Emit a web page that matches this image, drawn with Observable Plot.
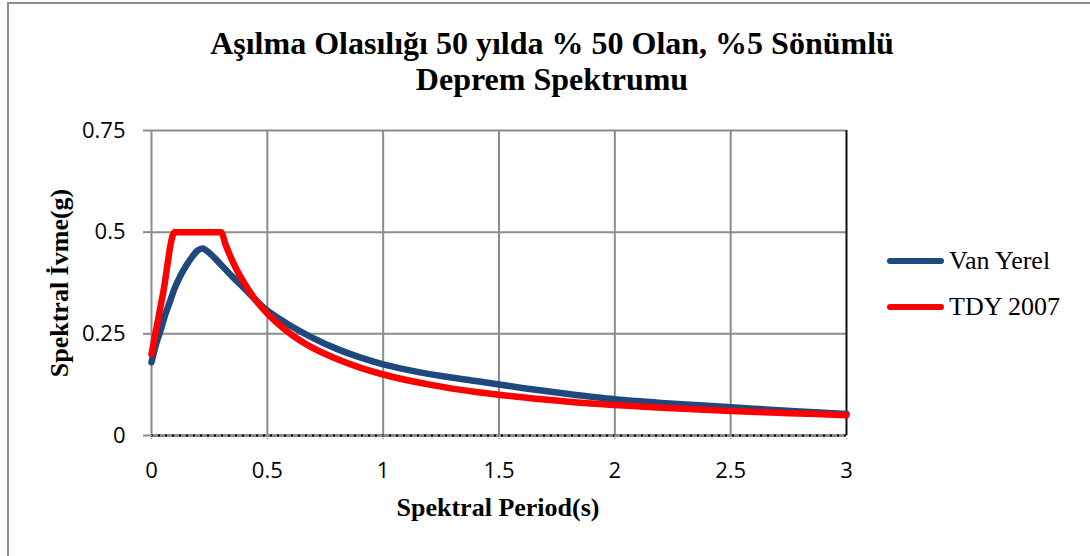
<!DOCTYPE html>
<html>
<head>
<meta charset="utf-8">
<script src="https://cdn.jsdelivr.net/npm/d3@7"></script>
<script src="https://cdn.jsdelivr.net/npm/@observablehq/plot@0.6"></script>
<style>
  html, body { margin: 0; padding: 0; background: #fff; }
  #wrap { position: relative; width: 1090px; height: 556px; overflow: hidden; background: #fff; }
  #frame { position: absolute; left: 7px; top: 2px; width: 1100px; height: 570px; border: 2px solid #8c8c8c; box-sizing: border-box; }
  #title { position: absolute; left: 0; top: 25px; width: 1104px; text-align: center;
           font-family: "Liberation Serif", "Times New Roman", serif; font-weight: bold; font-size: 32px; line-height: 36px; color: #000; }
  #plot { position: absolute; left: 0; top: 0; }
  #ylab { position: absolute; left: 60px; top: 283px; transform: translate(-50%, -50%) rotate(-90deg); white-space: nowrap;
          font-family: "Liberation Serif", serif; font-weight: bold; font-size: 26px; color: #000; }
  #xlab { position: absolute; left: 498px; top: 508px; transform: translate(-50%, -50%); white-space: nowrap;
          font-family: "Liberation Serif", serif; font-weight: bold; font-size: 26px; color: #000; }
  .leg { position: absolute; left: 887px; display: flex; align-items: center; white-space: nowrap;
         font-family: "Liberation Serif", serif; font-size: 26px; color: #000; }
  .sw { width: 57px; height: 6px; border-radius: 3px; margin-right: 5px; }
</style>
</head>
<body>
<div id="wrap">
  <div id="frame"></div>
  <div id="title">Aşılma Olasılığı 50 yılda % 50 Olan, %5 Sönümlü<br>Deprem Spektrumu</div>
  <div id="plot"></div>
  <div id="ylab">Spektral İvme(g)</div>
  <div id="xlab">Spektral Period(s)</div>
  <div id="legend"></div>
</div>
<script>
// Series names and colours
const seriesNames = ["Van Yerel", "TDY 2007"];
const seriesColors = ["#1f497d", "#ff0000"];

// Van Yerel spectrum (period s, acceleration g)
const periodVan = [0, 0.02, 0.04, 0.06, 0.08, 0.1, 0.125, 0.15, 0.17, 0.2, 0.22, 0.25, 0.3, 0.35, 0.4, 0.45, 0.5, 0.6, 0.7, 0.8, 0.9, 1.0, 1.1, 1.2, 1.4, 1.6, 1.8, 2.0, 2.2, 2.4, 2.6, 2.8, 3.0];
const accVan    = [0.18, 0.225, 0.26, 0.298, 0.33, 0.362, 0.393, 0.418, 0.435, 0.455, 0.46, 0.449, 0.42, 0.39, 0.362, 0.333, 0.307, 0.27, 0.239, 0.213, 0.192, 0.175, 0.162, 0.151, 0.134, 0.117, 0.102, 0.089, 0.08, 0.073, 0.066, 0.059, 0.053];

// TDY 2007 spectrum
const periodTdy = [0, 0.05, 0.1, 0.2, 0.3, 0.32, 0.34, 0.37, 0.4, 0.45, 0.5, 0.6, 0.7, 0.8, 0.9, 1.0, 1.2, 1.4, 1.6, 1.8, 2.0, 2.25, 2.5, 2.75, 3.0];
const accTdy    = [0.2, 0.35, 0.5, 0.5, 0.5, 0.469, 0.441, 0.405, 0.375, 0.333, 0.3, 0.25, 0.214, 0.188, 0.167, 0.15, 0.125, 0.107, 0.094, 0.083, 0.075, 0.067, 0.06, 0.055, 0.05];

// Axis ticks
const xTicks = [0, 0.5, 1, 1.5, 2, 2.5, 3];
const yTicks = [0, 0.25, 0.5, 0.75];
const xGrid = [0.5, 1, 1.5, 2, 2.5];
const yGrid = [0.25, 0.5, 0.75];

const van = periodVan.map((t, i) => ({t, a: accVan[i]}));
const tdy = periodTdy.map((t, i) => ({t, a: accTdy[i]}));

const grid = "#8c8c8c";
const chart = Plot.plot({
  width: 1090,
  height: 556,
  marginLeft: 151,
  marginRight: 244,
  marginTop: 130,
  marginBottom: 121,
  style: {fontFamily: "'Open Sans', sans-serif", fontSize: "22px", color: "#000", background: "transparent"},
  x: {domain: [0, 3]},
  y: {domain: [0, 0.75]},
  marks: [
    Plot.ruleX(xGrid, {stroke: grid, strokeWidth: 2}),
    Plot.ruleY(yGrid, {stroke: grid, strokeWidth: 2}),
    Plot.ruleX([0], {stroke: grid, strokeWidth: 2}),
    Plot.ruleX([3], {stroke: "#111", strokeWidth: 2}),
    Plot.ruleY([0], {stroke: grid, strokeWidth: 3}),
    Plot.ruleY([0], {stroke: "#000", strokeWidth: 2, strokeDasharray: "2,5"}),
    Plot.axisY({ticks: yTicks, tickFormat: d => String(d), tickSize: 8, tickPadding: 18, stroke: grid, strokeWidth: 2, fill: "#000", label: null}),
    Plot.axisX({ticks: xTicks, tickFormat: d => String(d), tickSize: 5, tickPadding: 22, stroke: "#999", strokeWidth: 1.5, strokeDasharray: "1,2", fill: "#000", label: null}),
    Plot.line(van, {x: "t", y: "a", stroke: seriesColors[0], strokeWidth: 6.5, curve: "catmull-rom"}),
    Plot.line(tdy, {x: "t", y: "a", stroke: seriesColors[1], strokeWidth: 6.5, curve: "monotone-x"})
  ]
});
document.getElementById("plot").appendChild(chart);

const legend = document.getElementById("legend");
const legTops = [261, 307];
seriesNames.forEach((name, i) => {
  const row = document.createElement("div");
  row.className = "leg";
  row.style.top = (legTops[i] - 16) + "px";
  row.style.height = "32px";
  const sw = document.createElement("div");
  sw.className = "sw";
  sw.style.background = seriesColors[i];
  row.appendChild(sw);
  row.appendChild(document.createTextNode(name));
  legend.appendChild(row);
});
</script>
</body>
</html>
